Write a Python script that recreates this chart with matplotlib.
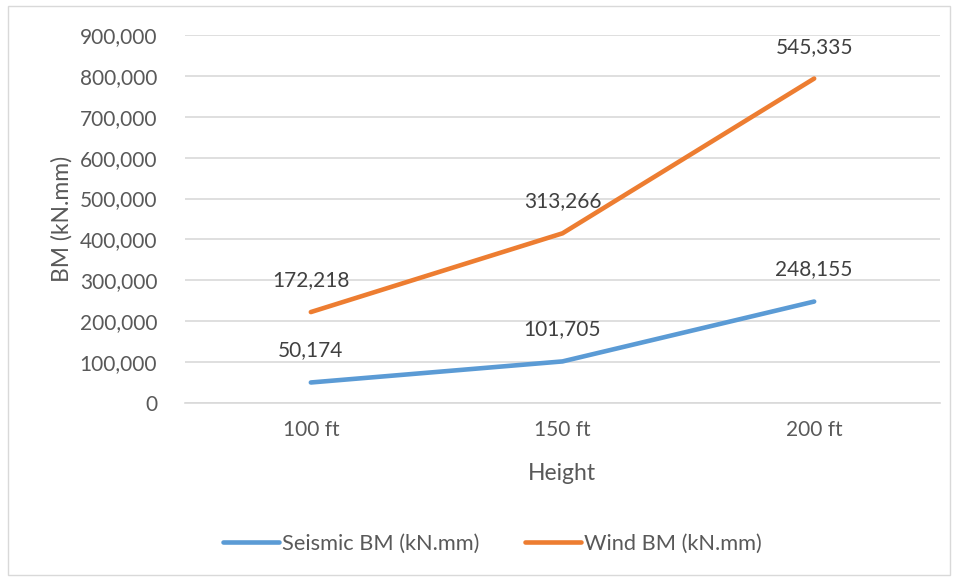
import matplotlib.pyplot as plt
import numpy as np
from matplotlib.patches import Rectangle

heights = ["100 ft", "150 ft", "200 ft"]
seismic_bm = [50174, 101705, 248155]
wind_bm = [172218, 313266, 545335]

BLUE = "#5B9BD5"
ORANGE = "#ED7D31"
TXT = "#595959"

plt.rcParams["font.family"] = ["Lato", "DejaVu Sans"]

fig = plt.figure(figsize=(9.57, 5.78), dpi=100)
W, H = 957, 578
ax = fig.add_axes([185 / W, 1 - 403 / H, (940 - 185) / W, (403 - 35) / H])

x = np.arange(len(heights))
# stacked line chart: wind drawn on top of seismic
wind_top = np.array(seismic_bm) + np.array(wind_bm)

ax.plot(x, seismic_bm, color=BLUE, lw=3.3, solid_capstyle="round", label="Seismic BM (kN.mm)", zorder=3)
ax.plot(x, wind_top, color=ORANGE, lw=3.3, solid_capstyle="round", label="Wind BM (kN.mm)", zorder=3)

for xi, v in zip(x, seismic_bm):
    ax.annotate(f"{v:,}", (xi, v), xytext=(0, 23), textcoords="offset points",
                ha="center", va="center", fontsize=15, color="#404040")
for xi, top, v in zip(x, wind_top, wind_bm):
    ax.annotate(f"{v:,}", (xi, top), xytext=(0, 23), textcoords="offset points",
                ha="center", va="center", fontsize=15, color="#404040")

ax.set_xlim(-0.5, 2.5)
ax.set_ylim(0, 900000)
ax.set_yticks(np.arange(0, 900001, 100000))
ax.set_yticklabels([f"{t:,}" for t in range(0, 900001, 100000)])
ax.set_xticks(x)
ax.set_xticklabels(heights)
ax.tick_params(axis="both", length=0, labelsize=15, colors=TXT)
ax.tick_params(axis="y", pad=20)
ax.tick_params(axis="x", pad=12)
ax.grid(axis="y", color="#D9D9D9", lw=1.2)
ax.set_axisbelow(True)
for s in ["top", "right", "left"]:
    ax.spines[s].set_visible(False)
ax.spines["bottom"].set_color("#D9D9D9")
ax.spines["bottom"].set_linewidth(1.2)

fig.text(62 / W, 1 - 219 / H, "BM (kN.mm)", rotation=90, ha="center", va="center",
         fontsize=16.5, color=TXT)
fig.text(562 / W, 1 - 473 / H, "Height", ha="center", va="center", fontsize=16.5, color=TXT)

fig.legend(loc="center", bbox_to_anchor=(492 / W, 1 - 544 / H), ncol=2, frameon=False,
           fontsize=15.7, labelcolor=TXT, handlelength=2.6, handletextpad=0.1, columnspacing=2.1)

fig.patches.append(Rectangle((8 / W, 3 / H), 942 / W, 569 / H, transform=fig.transFigure,
                             fill=False, edgecolor="#D9D9D9", lw=1))

fig.savefig("out.png", dpi=100)
